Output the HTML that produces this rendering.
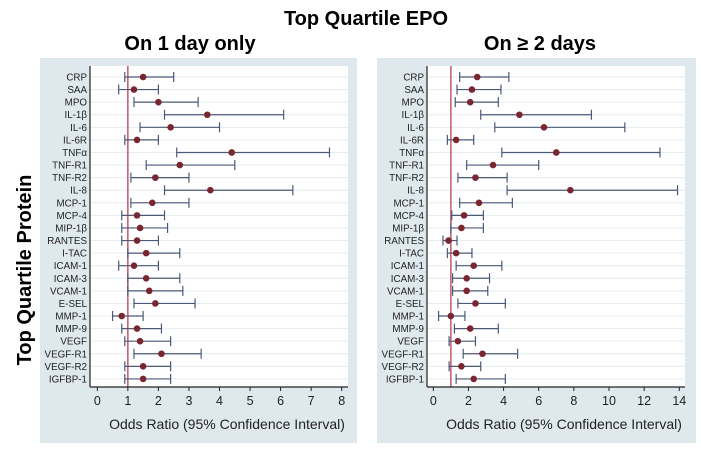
<!DOCTYPE html>
<html><head><meta charset="utf-8"><style>
body{margin:0;background:#fff;}
svg text{font-family:"Liberation Sans",sans-serif;}
</style></head><body>
<svg id="chart" width="701" height="450" xmlns="http://www.w3.org/2000/svg">
<text x="366" y="25" text-anchor="middle" font-size="20" font-weight="bold">Top Quartile EPO</text>
<text x="190" y="50" text-anchor="middle" font-size="20" font-weight="bold">On 1 day only</text>
<text x="540" y="50" text-anchor="middle" font-size="20" font-weight="bold">On ≥ 2 days</text>
<text transform="translate(31,270) rotate(-90)" text-anchor="middle" font-size="20" font-weight="bold">Top Quartile Protein</text>
<g id="p1"></g><g id="p2"></g>
</svg>
<script>
const categories=["CRP","SAA","MPO","IL-1β","IL-6","IL-6R","TNFα","TNF-R1","TNF-R2","IL-8","MCP-1","MCP-4","MIP-1β","RANTES","I-TAC","ICAM-1","ICAM-3","VCAM-1","E-SEL","MMP-1","MMP-9","VEGF","VEGF-R1","VEGF-R2","IGFBP-1"];
const est1=[1.5,1.2,2.0,3.6,2.4,1.3,4.4,2.7,1.9,3.7,1.8,1.3,1.4,1.3,1.6,1.2,1.6,1.7,1.9,0.8,1.3,1.4,2.1,1.5,1.5];
const lo1=[0.9,0.7,1.2,2.2,1.4,0.9,2.6,1.6,1.1,2.2,1.1,0.8,0.8,0.8,1.0,0.7,1.0,1.0,1.2,0.5,0.8,0.9,1.2,0.9,0.9];
const hi1=[2.5,2.0,3.3,6.1,4.0,2.0,7.6,4.5,3.0,6.4,3.0,2.2,2.3,2.0,2.7,2.0,2.7,2.8,3.2,1.5,2.1,2.4,3.4,2.4,2.4];
const est2=[2.5,2.2,2.1,4.9,6.3,1.3,7.0,3.4,2.4,7.8,2.6,1.75,1.6,0.87,1.3,2.3,1.9,1.9,2.4,1.0,2.1,1.4,2.8,1.6,2.3];
const lo2=[1.5,1.35,1.25,2.7,3.5,0.8,3.9,1.9,1.4,4.2,1.5,1.05,1.0,0.55,0.8,1.3,1.1,1.1,1.4,0.3,1.2,0.9,1.7,0.9,1.3];
const hi2=[4.3,3.85,3.7,9.0,10.9,2.3,12.9,6.0,4.2,13.9,4.5,2.85,2.85,1.35,2.2,3.9,3.2,3.1,4.1,1.8,3.7,2.4,4.8,2.7,4.1];
const ticks1=[0,1,2,3,4,5,6,7,8];
const ticks2=[0,2,4,6,8,10,12,14];
const NS="http://www.w3.org/2000/svg";
function mk(p,t,a){const e=document.createElementNS(NS,t);for(const k in a)e.setAttribute(k,a[k]);p.appendChild(e);return e;}
function panel(g,cfg,est,lo,hi,ticks){
 const sx=v=>cfg.x0+v*cfg.ppu;
 const sy=i=>77+i*12.58;
 const bg=mk(g,"rect",{x:cfg.bx,y:58,width:cfg.bw,height:385,fill:"#dfe8ec"});
 
 
 const pa=mk(g,"rect",{x:cfg.px,y:66,width:cfg.pw,height:321,fill:"#fff"});
 
 
 categories.forEach((c,i)=>{
  const gl=mk(g,"line",{x1:cfg.px,x2:cfg.px+cfg.pw,y1:sy(i),y2:sy(i),stroke:"#e6ecef","stroke-width":1});
  
  
  const t=mk(g,"text",{x:cfg.px-3,y:sy(i)+3.5,"text-anchor":"end","font-size":"9.8",fill:"#222"});
  t.textContent=c;
  
  
 });
 const rl=mk(g,"line",{x1:sx(1),x2:sx(1),y1:66,y2:387,stroke:"#c05a6a","stroke-width":1.5});
 
 
 categories.forEach((c,i)=>{
  const y=sy(i),col="#4b5878";
  const w=mk(g,"line",{x1:sx(lo[i]),x2:sx(hi[i]),y1:y,y2:y,stroke:col,"stroke-width":1.2});
  
  
  [lo[i],hi[i]].forEach(v=>{const cap=mk(g,"line",{x1:sx(v),x2:sx(v),y1:y-5,y2:y+5,stroke:col,"stroke-width":1.2});
   
   });
  const d=mk(g,"circle",{cx:sx(est[i]),cy:y,r:3.3,fill:"#7a2630"});
  
  
 });
 const ax=mk(g,"line",{x1:cfg.px,x2:cfg.px+cfg.pw,y1:387,y2:387,stroke:"#222","stroke-width":1.2});
 
 
 const ay=mk(g,"line",{x1:cfg.px,x2:cfg.px,y1:66,y2:387,stroke:"#222","stroke-width":1.2});
 
 
 ticks.forEach(v=>{
  const tk=mk(g,"line",{x1:sx(v),x2:sx(v),y1:387,y2:391,stroke:"#222"});
  
  
  const t=mk(g,"text",{x:sx(v),y:405,"text-anchor":"middle","font-size":"12.5",fill:"#222"});
  t.textContent=v;
  
  
 });
 const xl=mk(g,"text",{x:cfg.px+cfg.pw/2+8,y:429,"text-anchor":"middle","font-size":"14",fill:"#222"});
 xl.textContent="Odds Ratio (95% Confidence Interval)";
 
 
}
panel(document.getElementById("p1"),{bx:40,bw:317,px:90,pw:258,x0:97.3,ppu:30.55},est1,lo1,hi1,ticks1);
panel(document.getElementById("p2"),{bx:377,bw:319,px:427,pw:258,x0:433.3,ppu:17.57},est2,lo2,hi2,ticks2);
</script>
</body></html>
